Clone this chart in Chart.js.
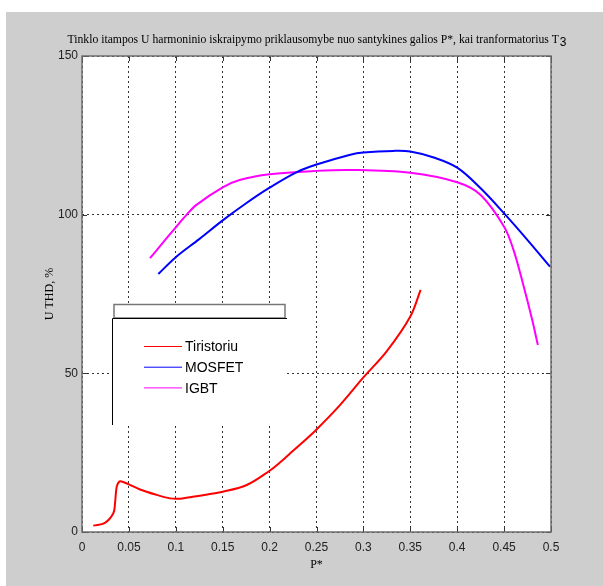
<!DOCTYPE html>
<html>
<head>
<meta charset="utf-8">
<script src="https://cdn.jsdelivr.net/npm/chart.js@4/dist/chart.umd.min.js"></script>
<style>html,body{margin:0;padding:0;background:#fff}</style>
</head>
<body>
<canvas id="c" width="603" height="586"></canvas>
<script>
// values
var tiristoriuP = [0.012, 0.0245, 0.0334, 0.0352, 0.037, 0.0398, 0.0423, 0.0494, 0.0618, 0.0796, 0.0938, 0.1045, 0.122, 0.15, 0.1756, 0.2, 0.211, 0.225, 0.238, 0.25, 0.275, 0.3, 0.325, 0.35, 0.361];
var tiristoriuU = [2.0, 2.9, 5.9, 9, 14.3, 15.9, 15.9, 15.1, 13.4, 11.7, 10.6, 10.5, 11.3, 12.7, 14.8, 19.3, 21.9, 25.6, 29, 32.3, 40, 48.7, 57, 67.9, 76.3];

var mosfetP = [0.0814, 0.1, 0.125, 0.15, 0.175, 0.2, 0.229, 0.25, 0.286, 0.3, 0.332, 0.35, 0.375, 0.4, 0.425, 0.45, 0.475, 0.499];
var mosfetU = [81.3, 86.6, 92.3, 98.2, 103.6, 108.5, 113.4, 115.8, 118.9, 119.6, 120.1, 119.9, 118, 114.8, 108.3, 100.4, 92, 83.6];

var igbtP = [0.0725, 0.083, 0.09, 0.1, 0.1116, 0.122, 0.15, 0.168, 0.2, 0.25, 0.286, 0.35, 0.4, 0.425, 0.45, 0.46, 0.47, 0.48, 0.486];
var igbtU = [86.3, 90.0, 92.5, 96.0, 100, 103.1, 108.6, 110.9, 112.7, 113.8, 114.1, 113.2, 110.2, 106.2, 96.2, 88.9, 78.4, 66.8, 58.9];

var xTicks = [0, 0.05, 0.1, 0.15, 0.2, 0.25, 0.3, 0.35, 0.4, 0.45, 0.5];
var yTicks = [0, 50, 100, 150];

var titleText = "Tinklo itampos U harmoninio iskraipymo priklausomybe nuo santykines galios P*, kai tranformatorius T";
var titleSub = "3";
var xTitle = "P*";
var yTitle = "U THD, %";

function pts(xs, ys) {
    return xs.map(function (x, i) { return { x: x, y: ys[i] }; });
}

// gray figure background, white axes area, frame, ticks, titles and the odd legend
var matlabLook = {
    id: "matlabLook",
    beforeDraw: function (chart) {
        var ctx = chart.ctx, a = chart.chartArea;
        ctx.save();
        ctx.fillStyle = "#fff";
        ctx.fillRect(0, 0, chart.width, chart.height);
        ctx.fillStyle = "#cecece";
        ctx.fillRect(6, 12, chart.width - 6, chart.height - 12);
        ctx.fillStyle = "#fff";
        ctx.fillRect(a.left, a.top, a.right - a.left, a.bottom - a.top);
        ctx.restore();
    },
    afterDraw: function (chart) {
        var ctx = chart.ctx, a = chart.chartArea;
        var xs = chart.scales.x, ys = chart.scales.y;
        ctx.save();

        // legend
        ctx.fillStyle = "#fff";
        ctx.fillRect(112, 304, 175, 121);
        ctx.strokeStyle = "#777";
        ctx.lineWidth = 1.5;
        ctx.strokeRect(114, 304.5, 171, 13.5);
        ctx.strokeStyle = "#000";
        ctx.lineWidth = 1;
        ctx.beginPath();
        ctx.moveTo(112.5, 425);
        ctx.lineTo(112.5, 318.5);
        ctx.lineTo(287, 318.5);
        ctx.stroke();
        ctx.font = "14px 'Liberation Sans', Arial, sans-serif";
        ctx.textBaseline = "middle";
        chart.data.datasets.forEach(function (ds, i) {
            var y = 346.5 + i * 20.7;
            ctx.strokeStyle = ds.borderColor;
            ctx.lineWidth = 1;
            ctx.beginPath();
            ctx.moveTo(144, y);
            ctx.lineTo(182, y);
            ctx.stroke();
            ctx.fillStyle = "#000";
            ctx.fillText(ds.label, 185, y + 1);
        });

        // inward ticks
        ctx.strokeStyle = "#333";
        ctx.lineWidth = 1;
        ctx.beginPath();
        xTicks.forEach(function (v) {
            var px = Math.round(xs.getPixelForValue(v)) + 0.5;
            ctx.moveTo(px, a.bottom); ctx.lineTo(px, a.bottom - 5);
            ctx.moveTo(px, a.top); ctx.lineTo(px, a.top + 5);
        });
        yTicks.forEach(function (v) {
            var py = Math.round(ys.getPixelForValue(v)) + 0.5;
            ctx.moveTo(a.left, py); ctx.lineTo(a.left + 5, py);
            ctx.moveTo(a.right, py); ctx.lineTo(a.right - 5, py);
        });
        ctx.stroke();

        // frame
        ctx.strokeStyle = "#6e6e6e";
        ctx.lineWidth = 1.5;
        ctx.strokeRect(a.left, a.top, a.right - a.left, a.bottom - a.top);

        // title with subscript
        var serif = "11.7px 'Liberation Serif', 'Times New Roman', serif";
        var sans = "12px 'Liberation Sans', Arial, sans-serif";
        ctx.fillStyle = "#000";
        ctx.textBaseline = "alphabetic";
        ctx.font = serif;
        var w1 = ctx.measureText(titleText).width;
        ctx.font = sans;
        var w2 = ctx.measureText(titleSub).width;
        var cx = (a.left + a.right) / 2;
        var x0 = cx - (w1 + w2) / 2;
        ctx.font = serif;
        ctx.textAlign = "left";
        ctx.fillText(titleText, x0, 43);
        ctx.font = sans;
        ctx.fillText(titleSub, x0 + w1 + 1, 46);

        // axis titles
        ctx.font = "12px 'Liberation Serif', 'Times New Roman', serif";
        ctx.textAlign = "center";
        ctx.textBaseline = "middle";
        ctx.fillText(xTitle, cx, 565);
        ctx.translate(50, (a.top + a.bottom) / 2);
        ctx.rotate(-Math.PI / 2);
        ctx.fillText(yTitle, 0, 0);
        ctx.restore();
    }
};

new Chart(document.getElementById("c").getContext("2d"), {
    type: "scatter",
    data: {
        datasets: [
            {
                label: "Tiristoriu",
                data: pts(tiristoriuP, tiristoriuU),
                borderColor: "#ff0000",
                borderWidth: 2
            },
            {
                label: "MOSFET",
                data: pts(mosfetP, mosfetU),
                borderColor: "#0000ff",
                borderWidth: 2
            },
            {
                label: "IGBT",
                data: pts(igbtP, igbtU),
                borderColor: "#ff00ff",
                borderWidth: 2
            }
        ]
    },
    options: {
        responsive: false,
        animation: false,
        devicePixelRatio: 1,
        showLine: true,
        elements: {
            point: { radius: 0 },
            line: { tension: 0.35, fill: false }
        },
        layout: { padding: { top: 56, right: 52, left: 0, bottom: 0 } },
        plugins: {
            legend: { display: false },
            tooltip: { enabled: false }
        },
        scales: {
            x: {
                type: "linear",
                min: 0,
                max: 0.5,
                afterFit: function (s) { s.height = 54; },
                afterBuildTicks: function (s) { s.ticks = xTicks.map(function (v) { return { value: v }; }); },
                ticks: {
                    padding: 8,
                    color: "#222",
                    font: { family: "'Liberation Sans', Arial, sans-serif", size: 12 },
                    maxRotation: 0,
                    autoSkip: false,
                    callback: function (v) { return String(Number(v.toFixed(2))); }
                },
                grid: { color: "#333", lineWidth: 1, drawTicks: false },
                border: { display: false, dash: [2, 3] }
            },
            y: {
                min: 0,
                max: 150,
                afterFit: function (s) { s.width = 82; },
                afterBuildTicks: function (s) { s.ticks = yTicks.map(function (v) { return { value: v }; }); },
                ticks: {
                    padding: 4,
                    color: "#222",
                    font: { family: "'Liberation Sans', Arial, sans-serif", size: 12 }
                },
                grid: { color: "#333", lineWidth: 1, drawTicks: false },
                border: { display: false, dash: [2, 3] }
            }
        }
    },
    plugins: [matlabLook]
});
</script>
</body>
</html>
